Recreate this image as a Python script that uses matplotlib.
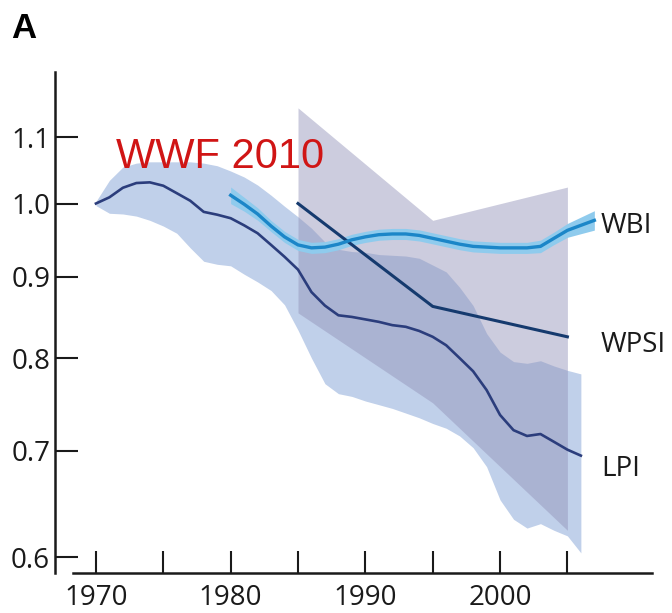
import matplotlib
matplotlib.use("Agg")
import matplotlib.pyplot as plt
from matplotlib.ticker import FixedLocator, FixedFormatter, NullLocator

# Living Planet Index (LPI) and its confidence band
lpi_years = list(range(1970, 2007))
lpi = [1.000, 1.009, 1.023, 1.030, 1.031, 1.026, 1.015, 1.004, 0.988, 0.984,
       0.979, 0.969, 0.958, 0.942, 0.926, 0.909, 0.880, 0.863, 0.851, 0.849,
       0.846, 0.843, 0.839, 0.837, 0.832, 0.825, 0.815, 0.800, 0.785, 0.764,
       0.737, 0.721, 0.715, 0.717, 0.709, 0.701, 0.695]
lpi_hi = [1.003, 1.034, 1.054, 1.060, 1.062, 1.062, 1.062, 1.062, 1.060, 1.056,
          1.048, 1.039, 1.027, 1.012, 0.996, 0.981, 0.965, 0.946, 0.936, 0.933,
          0.932, 0.929, 0.928, 0.927, 0.924, 0.915, 0.906, 0.886, 0.863, 0.829,
          0.807, 0.796, 0.794, 0.797, 0.791, 0.786, 0.782]
lpi_lo = [0.997, 0.986, 0.985, 0.982, 0.976, 0.968, 0.958, 0.938, 0.920, 0.916,
          0.914, 0.903, 0.893, 0.882, 0.864, 0.833, 0.800, 0.771, 0.760, 0.757,
          0.752, 0.748, 0.744, 0.739, 0.734, 0.728, 0.723, 0.715, 0.703, 0.684,
          0.652, 0.634, 0.626, 0.630, 0.624, 0.619, 0.604]

# Water Bird Index (WBI) with its narrow band (relative half-width)
wbi_years = list(range(1980, 2008))
wbi = [1.012, 0.999, 0.985, 0.968, 0.953, 0.942, 0.938, 0.939, 0.943, 0.949,
       0.953, 0.956, 0.957, 0.957, 0.955, 0.951, 0.947, 0.943, 0.940, 0.939,
       0.938, 0.938, 0.938, 0.940, 0.951, 0.962, 0.969, 0.976]
wbi_err = [0.012, 0.010, 0.009, 0.008, 0.008, 0.008, 0.008, 0.008, 0.008, 0.008,
           0.008, 0.008, 0.008, 0.008, 0.008, 0.008, 0.008, 0.008, 0.008, 0.008,
           0.008, 0.008, 0.008, 0.009, 0.009, 0.010, 0.012, 0.014]

# Wild Bird / Population Status Index (WPSI) and its band
wpsi_years = [1985, 1995, 2005]
wpsi = [1.000, 0.862, 0.825]
wpsi_hi = [1.148, 0.976, 1.024]
wpsi_lo = [0.854, 0.750, 0.624]

yticks = [0.6, 0.7, 0.8, 0.9, 1.0, 1.1]
ytick_labels = ["0.6", "0.7", "0.8", "0.9", "1.0", "1.1"]
xticks = [1970, 1980, 1990, 2000]
xticks_minor = [1975, 1985, 1995, 2005]

series_labels = ["WBI", "WPSI", "LPI"]
label_pos = [0.968, 0.815, 0.682]

plt.rcParams["font.family"] = ["Open Sans", "DejaVu Sans"]

fig = plt.figure(figsize=(6.72, 6.13), dpi=100)
ax = fig.add_axes([55 / 672, 1 - 573 / 613, 597 / 672, 501 / 613])
ax.set_yscale("log")

ax.fill_between(lpi_years, lpi_lo, lpi_hi, color="#c0d0ea", lw=0, zorder=1)
ax.fill_between(wpsi_years, wpsi_lo, wpsi_hi, color="#9393b9", alpha=0.47, lw=0, zorder=2)

wbi_lo = [v * (1 - e) for v, e in zip(wbi, wbi_err)]
wbi_hi = [v * (1 + e) for v, e in zip(wbi, wbi_err)]
ax.fill_between(wbi_years, wbi_lo, wbi_hi, color="#8fcbed", lw=0, zorder=3)

ax.plot(lpi_years, lpi, color="#2b3d7c", lw=1.9, zorder=4, solid_joinstyle="round")
ax.plot(wpsi_years, wpsi, color="#153a6e", lw=2.2, zorder=4)
ax.plot(wbi_years, wbi, color="#1b86c8", lw=2.4, zorder=5, solid_joinstyle="round")

for name, yv in zip(series_labels, label_pos):
    ax.text(2007.5, yv, name, fontsize=20, color="#1a1a1a", ha="left", va="center")

ax.text(1971.5, 1.053, "WWF 2010", fontsize=30, color="#d01515",
        family=["Liberation Sans"], ha="left", va="baseline", zorder=6)
fig.text(11 / 672, 1 - 38 / 613, "A", fontsize=25, fontweight="bold",
         family=["Liberation Sans"], ha="left", va="baseline")

ax.set_xlim(1966.96, 2011.28)
ax.set_ylim(0.5867, 1.209)

ax.yaxis.set_major_locator(FixedLocator(yticks))
ax.yaxis.set_major_formatter(FixedFormatter(ytick_labels))
ax.yaxis.set_minor_locator(NullLocator())
ax.xaxis.set_major_locator(FixedLocator(xticks))
ax.xaxis.set_minor_locator(FixedLocator(xticks_minor))

ax.tick_params(axis="y", direction="in", length=16.5, width=1.5, labelsize=20, pad=3.5, colors="#1a1a1a")
ax.tick_params(axis="x", which="both", direction="in", length=16, width=1.5, labelsize=20, pad=8, colors="#1a1a1a")

for side in ["top", "right"]:
    ax.spines[side].set_visible(False)
ax.spines["left"].set_linewidth(1.8)
ax.spines["bottom"].set_linewidth(1.8)
ax.spines["left"].set_color("#1a1a1a")
ax.spines["bottom"].set_color("#1a1a1a")
ax.spines["bottom"].set_bounds(1968.3, 2011.28)
ax.patch.set_visible(False)

fig.savefig("out.png", dpi=100)
